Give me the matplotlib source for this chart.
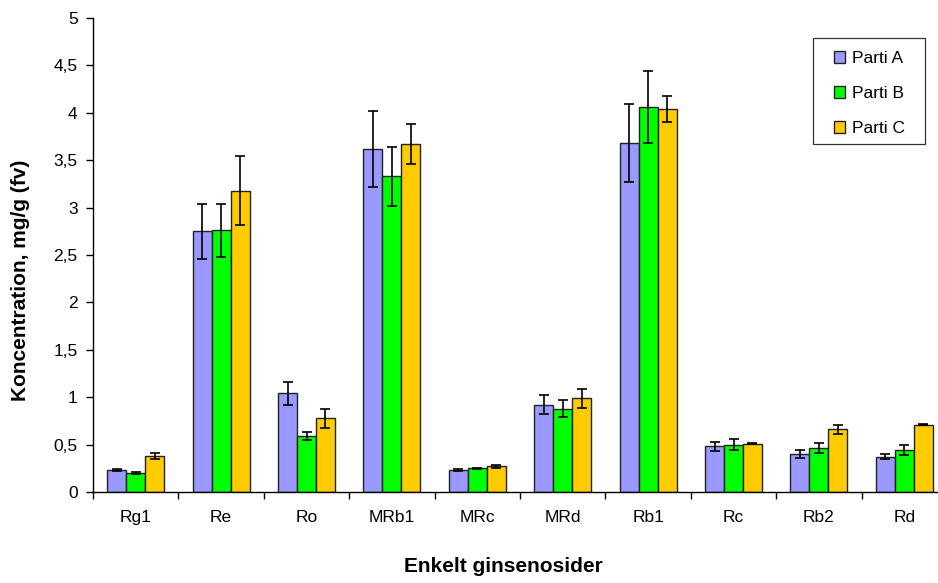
import numpy as np
import matplotlib
matplotlib.use("Agg")
import matplotlib.pyplot as plt
from matplotlib.patches import Rectangle
from matplotlib.ticker import FuncFormatter

plt.rcParams["font.family"] = ["Liberation Sans", "DejaVu Sans"]

# data
categories = ["Rg1", "Re", "Ro", "MRb1", "MRc", "MRd", "Rb1", "Rc", "Rb2", "Rd"]
series_names = ["Parti A", "Parti B", "Parti C"]

parti_a = [0.23, 2.75, 1.04, 3.62, 0.23, 0.92, 3.68, 0.48, 0.40, 0.37]
parti_b = [0.20, 2.76, 0.59, 3.33, 0.25, 0.88, 4.06, 0.50, 0.46, 0.44]
parti_c = [0.38, 3.18, 0.78, 3.67, 0.27, 0.99, 4.04, 0.51, 0.66, 0.71]

err_a = [0.010, 0.29, 0.12, 0.40, 0.010, 0.10, 0.41, 0.046, 0.044, 0.026]
err_b = [0.013, 0.28, 0.046, 0.31, 0.005, 0.093, 0.38, 0.056, 0.053, 0.053]
err_c = [0.028, 0.36, 0.10, 0.21, 0.013, 0.10, 0.14, 0.005, 0.044, 0.005]

colors = ["#9999FF", "#00FF00", "#FFCC00"]

W, H = 938, 583
fig = plt.figure(figsize=(W / 100, H / 100), dpi=100)
# plot area runs past the right edge, as in the cropped original
ax = fig.add_axes([93 / W, (H - 492) / H, 854 / W, 474 / H])

x = np.arange(len(categories))
bar_w = 0.222
values = [parti_a, parti_b, parti_c]
errors = [err_a, err_b, err_c]
for i, (vals, errs) in enumerate(zip(values, errors)):
    ax.bar(x + (i - 1) * bar_w, vals, width=bar_w, color=colors[i],
           edgecolor="#222222", linewidth=1.0, label=series_names[i], zorder=2)
    ax.errorbar(x + (i - 1) * bar_w, vals, yerr=errs, fmt="none",
                ecolor="black", elinewidth=1.2, capsize=3.5, capthick=1.2, zorder=3)

ax.set_xlim(-0.5, len(categories) - 0.5)
ax.set_ylim(0, 5)
ax.set_yticks(np.arange(0, 5.01, 0.5))
ax.yaxis.set_major_formatter(FuncFormatter(lambda v, p: f"{v:g}".replace(".", ",")))
ax.set_xticks(x)
ax.set_xticklabels(categories)
ax.set_xticks(np.arange(-0.5, len(categories), 1.0), minor=True)
ax.tick_params(axis="x", which="major", length=0, pad=13, labelsize=12.5)
ax.tick_params(axis="x", which="minor", length=5, width=1, direction="out")
ax.tick_params(axis="y", length=5, width=1, direction="out", pad=6, labelsize=12.5)

for side in ["top", "right"]:
    ax.spines[side].set_visible(False)
for side in ["left", "bottom"]:
    ax.spines[side].set_linewidth(1.0)

fig.text(503 / W, 1 - 567 / H, "Enkelt ginsenosider", ha="center", va="center",
         fontsize=15, fontweight="bold")
fig.text(21 / W, 1 - 280 / H, "Koncentration, mg/g (fv)", ha="center", va="center",
         rotation=90, fontsize=15, fontweight="bold")

# legend entries without frame, box drawn separately
box = Rectangle((812.7 / W, 1 - 144 / H), (925 - 812.7) / W, (144 - 38.3) / H,
                transform=fig.transFigure, facecolor="white", edgecolor="#333333",
                linewidth=0.9, clip_on=False, zorder=4)
ax.add_patch(box)
leg = ax.legend(loc="upper left", bbox_to_anchor=(834 / W, 1 - 51 / H),
                bbox_transform=fig.transFigure, borderaxespad=0, borderpad=0,
                fontsize=12.5, frameon=False,
                handlelength=0.65, handleheight=0.65, handletextpad=0.4,
                labelspacing=1.16)
leg.set_zorder(5)

fig.savefig("out.png", dpi=100)
